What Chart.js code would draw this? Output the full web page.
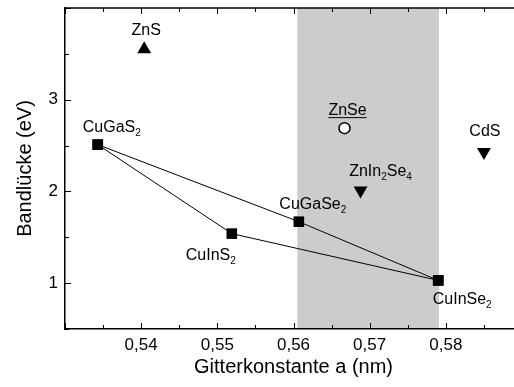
<!DOCTYPE html>
<html>
<head>
<meta charset="utf-8">
<script src="https://cdn.jsdelivr.net/npm/chart.js@4"></script>
<style>
  html, body { margin: 0; padding: 0; background: #fff; overflow: hidden; }
  #wrap { width: 530px; height: 387px; position: relative; }
</style>
</head>
<body>
<div id="wrap"><canvas id="chart"></canvas></div>
<script>
// Chalkopyrite (Quadrate, mit Linien verbunden)
const chalcNames = ["CuGaS_2", "CuInS_2", "CuGaSe_2", "CuInSe_2"];
const chalcA = [0.5343, 0.5519, 0.5607, 0.5790];
const chalcEg = [2.51, 1.54, 1.67, 1.03];
// Verbindungslinien: Indizes in die Chalkopyrit-Arrays
const pathS = [0, 1, 3];
const pathGa = [0, 2, 3];

// andere Verbindungen
const znsA = [0.5404], znsEg = [3.55];
const znseA = [0.5667], znseEg = [2.69];
const downNames = ["ZnIn_2Se_4", "CdS"];
const downA = [0.5688, 0.5850];
const downEg = [2.01, 2.43];

// grauer Bereich (Gitterkonstante)
const bandRange = [0.5605, 0.5791];

// Achsen
const xTicks = [0.53, 0.535, 0.54, 0.545, 0.55, 0.555, 0.56, 0.565, 0.57, 0.575, 0.58, 0.585, 0.59];
const xLabeled = [0.54, 0.55, 0.56, 0.57, 0.58];
const yTicks = [0.5, 1, 1.5, 2, 2.5, 3, 3.5, 4];
const yLabeled = [1, 2, 3];

const FONT = "'Liberation Sans', Arial, sans-serif";

const pts = (xs, ys, idx) => (idx || xs.map((_, i) => i)).map(i => ({ x: xs[i], y: ys[i] }));

// Beschriftungen: Text-Mitte relativ zum Punkt (Pixel)
const labelOffsets = {
  "CuGaS_2": [14, -19],
  "CuInS_2": [-21, 20],
  "CuGaSe_2": [14, -19],
  "CuInSe_2": [24, 18],
  "ZnS": [2, -20],
  "ZnSe": [3, -19],
  "ZnIn_2Se_4": [20, -21],
  "CdS": [1, -22]
};

const isIn = (v, arr) => arr.some(a => Math.abs(a - v) < 1e-6);

const drawRich = (ctx, text, cx, cy, underline) => {
  const parts = text.split(/_(\d)/);
  const main = `16px ${FONT}`, sub = `10px ${FONT}`;
  let w = 0;
  parts.forEach((p, i) => { ctx.font = i % 2 ? sub : main; w += ctx.measureText(p).width; });
  let x = cx - w / 2;
  const base = cy + 6;
  ctx.fillStyle = "#000";
  ctx.textBaseline = "alphabetic";
  ctx.textAlign = "left";
  parts.forEach((p, i) => {
    ctx.font = i % 2 ? sub : main;
    ctx.fillText(p, x, i % 2 ? base + 4 : base);
    x += ctx.measureText(p).width;
  });
  if (underline) {
    ctx.strokeStyle = "#000";
    ctx.lineWidth = 1;
    ctx.beginPath();
    ctx.moveTo(cx - w / 2, base + 2.5);
    ctx.lineTo(cx + w / 2, base + 2.5);
    ctx.stroke();
  }
};

const rahmen = {
  id: "rahmen",
  beforeDraw(chart) {
    const { ctx, chartArea: a, scales: { x } } = chart;
    ctx.save();
    ctx.fillStyle = "#cccccc";
    const x0 = x.getPixelForValue(bandRange[0]);
    const x1 = x.getPixelForValue(bandRange[1]);
    ctx.fillRect(x0, a.top, x1 - x0, a.bottom - a.top);
    ctx.restore();
  },
  afterDraw(chart) {
    const { ctx, chartArea: a, scales: { x, y } } = chart;
    ctx.save();
    ctx.strokeStyle = "#000";
    ctx.lineWidth = 1.5;
    ctx.beginPath();
    ctx.moveTo(a.left, a.top);
    ctx.lineTo(a.right, a.top);
    ctx.stroke();
    ctx.lineWidth = 1;
    ctx.beginPath();
    xTicks.forEach(v => {
      const px = Math.round(x.getPixelForValue(v)) + 0.5;
      const len = isIn(v, xLabeled) || isIn(v * 100, [53, 59]) ? 6 : 4;
      ctx.moveTo(px, a.bottom); ctx.lineTo(px, a.bottom - len);
      ctx.moveTo(px, a.top); ctx.lineTo(px, a.top + len);
    });
    yTicks.forEach(v => {
      const py = Math.round(y.getPixelForValue(v)) + 0.5;
      const len = Number.isInteger(v) ? 6 : 4;
      ctx.moveTo(a.left, py); ctx.lineTo(a.left + len, py);
    });
    ctx.stroke();

    const labelAt = (name, px, py) => {
      const o = labelOffsets[name];
      drawRich(ctx, name, px + o[0], py + o[1], name === "ZnSe");
    };
    chalcNames.forEach((n, i) => labelAt(n, x.getPixelForValue(chalcA[i]), y.getPixelForValue(chalcEg[i])));
    labelAt("ZnS", x.getPixelForValue(znsA[0]), y.getPixelForValue(znsEg[0]));
    labelAt("ZnSe", x.getPixelForValue(znseA[0]), y.getPixelForValue(znseEg[0]));
    downNames.forEach((n, i) => labelAt(n, x.getPixelForValue(downA[i]), y.getPixelForValue(downEg[i])));
    ctx.restore();
  }
};

const lineSet = (idx) => ({
  type: "line",
  data: pts(chalcA, chalcEg, idx),
  borderColor: "#000",
  borderWidth: 1,
  backgroundColor: "#000",
  pointStyle: "rect",
  pointRadius: 7.5,
  pointBorderWidth: 0,
  tension: 0
});

new Chart(document.getElementById("chart"), {
  type: "scatter",
  data: {
    datasets: [
      lineSet(pathS),
      lineSet(pathGa),
      { data: pts(znsA, znsEg), pointStyle: "triangle", pointRadius: 8, backgroundColor: "#000", borderColor: "#000", borderWidth: 0 },
      { data: pts(znseA, znseEg), pointStyle: "circle", pointRadius: 5.5, backgroundColor: "#fff", borderColor: "#000", borderWidth: 1.5 },
      { data: pts(downA, downEg), pointStyle: "triangle", rotation: 180, pointRadius: 8, backgroundColor: "#000", borderColor: "#000", borderWidth: 0 }
    ]
  },
  plugins: [rahmen],
  options: {
    responsive: true,
    maintainAspectRatio: false,
    animation: false,
    layout: { padding: { top: 6, right: 7, left: 0, bottom: 0 } },
    plugins: { legend: { display: false }, tooltip: { enabled: false } },
    scales: {
      x: {
        type: "linear",
        min: 0.53,
        max: 0.59,
        afterBuildTicks: s => { s.ticks = xTicks.map(v => ({ value: v })); },
        afterFit: s => { s.height = 58; s.paddingLeft = 0; s.paddingRight = 0; },
        grid: { display: true, drawOnChartArea: false, drawTicks: false },
        border: { display: true, color: "#000", width: 1.5 },
        ticks: {
          padding: 6,
          color: "#000",
          font: { family: FONT, size: 17 },
          maxRotation: 0,
          autoSkip: false,
          callback: v => isIn(v, xLabeled) ? v.toFixed(2).replace(".", ",") : ""
        },
        title: {
          display: true,
          text: "Gitterkonstante a (nm)",
          color: "#000",
          font: { family: FONT, size: 20 },
          padding: { top: 0, bottom: 8 }
        }
      },
      y: {
        min: 0.5,
        max: 4,
        afterBuildTicks: s => { s.ticks = yTicks.map(v => ({ value: v })); },
        afterFit: s => { s.width = 65; s.paddingTop = 0; s.paddingBottom = 0; },
        grid: { display: true, drawOnChartArea: false, drawTicks: false },
        border: { display: true, color: "#000", width: 1.5 },
        ticks: {
          padding: 7,
          color: "#000",
          font: { family: FONT, size: 17 },
          autoSkip: false,
          callback: v => isIn(v, yLabeled) ? String(v) : ""
        },
        title: {
          display: true,
          text: "Bandlücke (eV)",
          color: "#000",
          font: { family: FONT, size: 20 },
          padding: { top: 13, bottom: 0 }
        }
      }
    }
  }
});
</script>
</body>
</html>
